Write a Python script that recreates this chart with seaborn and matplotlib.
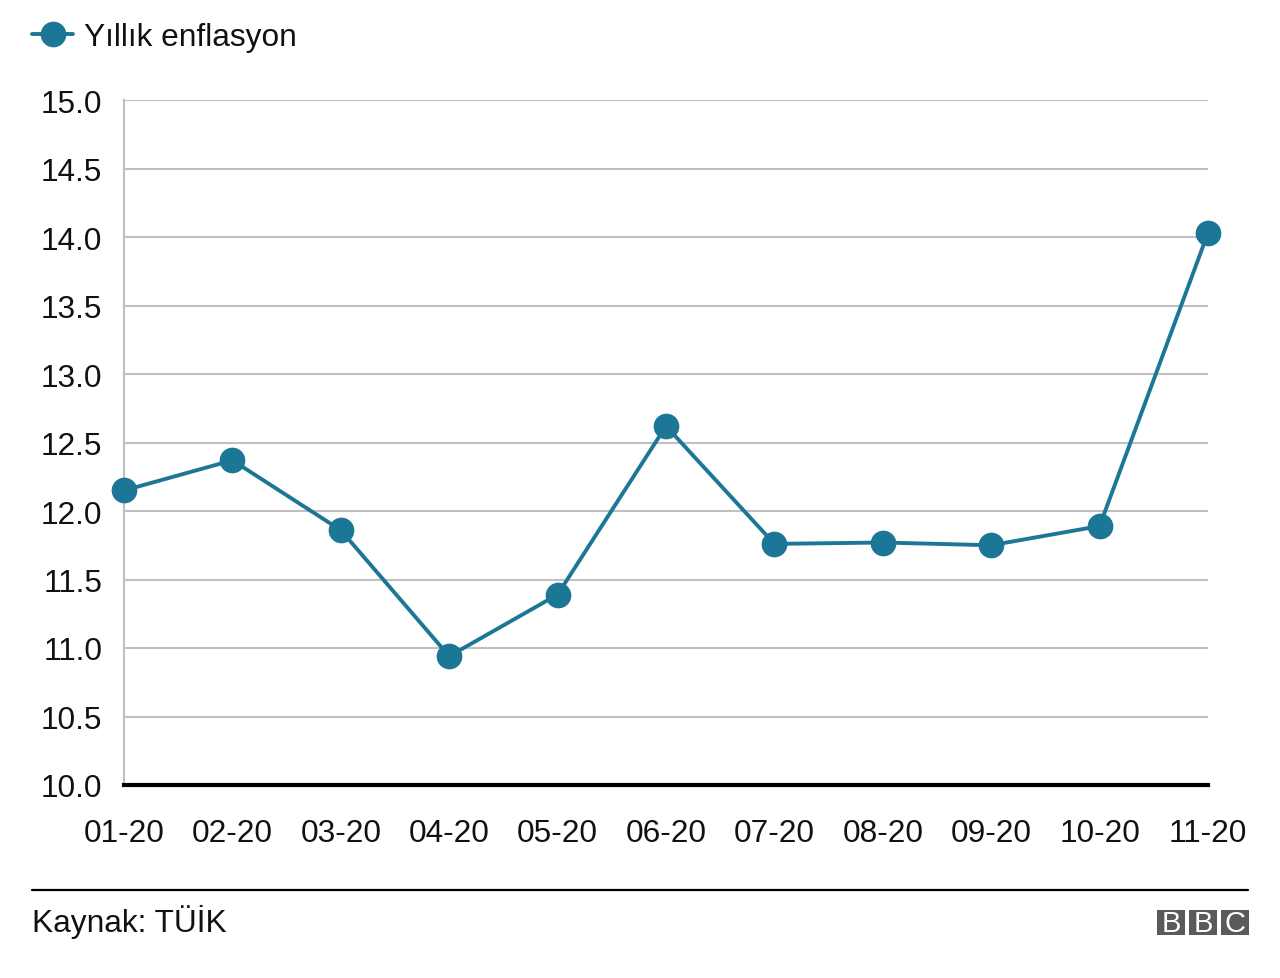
import matplotlib
matplotlib.use("Agg")
import matplotlib.pyplot as plt
import seaborn as sns
import pandas as pd
from matplotlib.patches import Rectangle
from matplotlib.lines import Line2D

months = ["01-20", "02-20", "03-20", "04-20", "05-20", "06-20",
          "07-20", "08-20", "09-20", "10-20", "11-20"]
inflation = [12.15, 12.37, 11.86, 10.94, 11.39, 12.62, 11.76, 11.77, 11.75, 11.89, 14.03]
y_ticks = [10.0, 10.5, 11.0, 11.5, 12.0, 12.5, 13.0, 13.5, 14.0, 14.5, 15.0]
series_label = "Yıllık enflasyon"
source_text = "Kaynak: TÜİK"

sns.set_theme(style="white")
plt.rcParams["font.family"] = ["Liberation Sans", "DejaVu Sans"]

W, H = 1280, 979
FS = 22.8
TXT = "#111111"
fig = plt.figure(figsize=(W / 100, H / 100), dpi=100)
ax = fig.add_axes([124 / W, 1 - 786 / H, (1208 - 124) / W, (786 - 101) / H])

color = "#1c7796"
df = pd.DataFrame({"month": months, "value": inflation})
sns.lineplot(data=df, x="month", y="value", sort=False, ax=ax, color=color,
             linewidth=2.8, marker="o", markersize=18.5, markeredgewidth=0,
             clip_on=False, zorder=5, legend=False)

ax.set_xlim(0, len(months) - 1)
ax.set_ylim(10, 15)
ax.set_yticks(y_ticks)
ax.set_yticklabels([f"{v:.1f}" for v in y_ticks])
ax.set_xticks(range(len(months)))
ax.set_xticklabels(months)
ax.set_xlabel("")
ax.set_ylabel("")
ax.tick_params(axis="both", length=0, labelsize=FS, colors=TXT)
ax.tick_params(axis="y", pad=15.5)
ax.tick_params(axis="x", pad=24)
ax.yaxis.grid(True, color="#c0c0c0", linewidth=1.5)
ax.xaxis.grid(False)
for s in ["top", "right"]:
    ax.spines[s].set_visible(False)
ax.spines["left"].set_color("#c0c0c0")
ax.spines["left"].set_linewidth(1.5)
ax.spines["bottom"].set_color("black")
ax.spines["bottom"].set_linewidth(3)
ax.spines["bottom"].set_zorder(4)

handle = Line2D([], [], color=color, linewidth=2.8, marker="o", markersize=18.5,
                markeredgewidth=0)
fig.legend([handle], [series_label], loc="center left",
           bbox_to_anchor=(32 / W, 1 - 38 / H), frameon=False,
           fontsize=FS, handlelength=1.3, handletextpad=0.33,
           borderaxespad=0, borderpad=0, labelcolor=TXT)

# footer
fig.add_artist(Line2D([32 / W, 1248 / W], [1 - 891 / H, 1 - 891 / H],
                      color="black", linewidth=1.6))
fig.text(32 / W, 1 - 922 / H, source_text, fontsize=FS, color=TXT,
         va="center", ha="left")

# BBC logo
box_w, box_h, gap = 28, 25, 4
x0, y_top = 1157, 911
for i, letter in enumerate("BBC"):
    bx = x0 + i * (box_w + gap)
    fig.add_artist(Rectangle((bx / W, 1 - (y_top + box_h) / H), box_w / W, box_h / H,
                             transform=fig.transFigure, facecolor="#5a5a5a",
                             edgecolor="none"))
    fig.text((bx + box_w / 2) / W, 1 - (y_top + box_h / 2 + 0.5) / H, letter,
             fontsize=21, color="white", ha="center", va="center")

fig.savefig("out.png", dpi=100)
